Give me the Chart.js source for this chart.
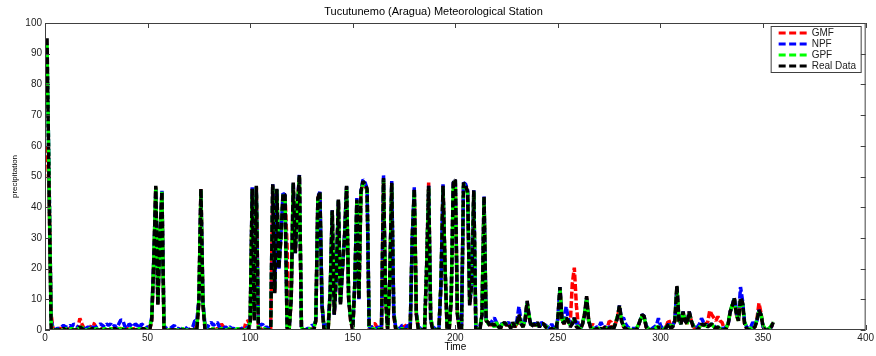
<!DOCTYPE html>
<html>
<head>
<meta charset="utf-8">
<title>Tucutunemo (Aragua) Meteorological Station</title>
<script src="https://cdn.jsdelivr.net/npm/chart.js@4.4.1/dist/chart.umd.min.js"></script>
<style>
  html, body { margin: 0; padding: 0; background: #fff; }
  #wrap { width: 876px; height: 356px; }
</style>
</head>
<body>
<div id="wrap"><canvas id="rainChart" width="876" height="356"></canvas></div>
<script>
const TITLE = "Tucutunemo (Aragua) Meteorological Station";
const SERIES_NAMES = ["GMF", "NPF", "GPF", "Real Data"];
const COLORS = ["#ff0000", "#0000ff", "#00ff00", "#000000"];
const X_TICKS = [0, 50, 100, 150, 200, 250, 300, 350, 400];
const Y_TICKS = [0, 10, 20, 30, 40, 50, 60, 70, 80, 90, 100];
const FIRST_DAY = 1;

// daily values, day 1 .. 355
const gmf = [
    60,45,5,0,0,0,0.5,0.5,0,0,
    0,0.5,0,0.5,0,0.5,3.8,2,0.5,0,
    0,0.5,2.2,2,0.5,0,0,0.5,0,0,
    0,0,0.5,0,0,0.5,0.5,0,0,0.5,
    0,0,0.5,0,0,0,0.5,0,0,0,
    0,3,22,46.5,8.5,30,45,0.5,0,0,
    0,0,0.5,0,0,0,0,0.5,0,0,
    0,0,0.5,1,9.5,46,8.5,0.5,0,0,
    0,0.5,0,0.5,0,2,1,0,0.5,0,
    0,0,0,0,0.5,0,0,2.7,3,2.5,
    46,3.5,46.5,1,0.5,0,0,0.5,0,0,
    47,12.5,45.5,21,30,44,44,27,0,10,
    47.5,25,40,50,0.5,0,0,0,0,0.5,
    0,3,43,44.5,8.5,0.5,0,0,12,38.5,
    5,18,42,9,20,30.5,46.5,10.5,3,0,
    15,42,10.5,45,48,47,45.5,0.5,0,2,
    2,0.5,0,0,49,10.5,0,15,47.5,5,
    0,0.5,0,0.5,2,1,0,0,30,45.5,
    5,0.5,0,0,0,20,48,3.5,0.5,0,
    0,0,15,47,20,0.5,0,10,47.5,48.5,
    5,0.5,0,47.5,47,45,8,15,45,0.5,
    0,0.5,5,43,3,2.5,1.5,2,1.5,2,
    1.5,0.5,2,2,1.5,2.5,1,2,1,2,
    4.5,2,1.5,3,9,4,1.5,2,1.5,2,
    1,2,2,1.5,0.5,0,0.5,0.5,0,3.5,
    13.5,3,2,3.5,3,2,15,20.3,8,1,
    0.5,2,5,10.5,3,1,2,0.5,0.5,0,
    0.5,0.5,1,0.5,2.9,2.5,0,2,4,7.5,
    3,1,0.5,0,0,0,0,0.5,1,3,
    4.5,4.5,1,0,0,0,0.5,0.5,1,0.5,
    0,0.5,1.5,3.4,1,1.5,3,14,3,2,
    5.5,3,2,6,3,1,0.5,0,1,2,
    1.5,2,2.5,6.3,5,4,3,4.4,3,2.5,
    0.5,0.5,2,6,8,10,5,3,10,8.5,
    2,0.5,0,0,0.5,1,3.5,8.7,5.5,1,
    0,0,0.5,1,2.5
];

const npf = [
    90,50,3,0.5,0,0.5,0.5,1,1.5,1,
    1,1.5,1,2,1.5,1,0.5,1,0.5,0.5,
    1,0.5,1,0.5,1,1.5,2,1.5,1,2,
    1.5,2,1,1.5,0.5,2,3.3,3,1,0.5,
    2,1.5,1,2,1.5,0.5,2,1.5,0.5,1,
    1,4,23,46,9,30,45.5,1.5,0.5,0.5,
    0.5,1,1.5,0.5,0.5,0,0.5,1,0.5,0,
    0.5,1,3,3,10,45.5,9,1.5,0.5,2,
    2.5,1.5,2,2.5,1,1.5,0.5,1,0.5,1,
    0.5,0.5,0,0.5,0,0.5,1,0.5,1,3,
    46.5,4,46.5,2,1.5,2,0.5,1,0.5,0.5,
    47.5,13,46,20,31,44.5,44,1,0.5,10.5,
    48,25,40.5,50.5,1,0.5,0,0.5,0.5,1.5,
    1.5,3,43.5,45,8,1,2,1,13,39,
    5,18,42.5,9,20,31,47,10,4,1,
    15,43,10,45.5,49,48,46,1,1,1,
    1,0.5,1,0.5,50.5,11,1,16,48.5,5.5,
    0.5,0.5,0.5,1.5,1.5,1,1.5,0.5,30,46.5,
    5.5,1,0.5,0,0.5,21,47,3.5,1,0.5,
    0,0.5,15,47.5,20,1,1,10,48,49,
    5.5,1,0.5,48,47.5,45.5,8.5,15,45.5,1,
    0.5,1,5,43.5,3.5,3,2,3,4,2.5,
    1.5,1,2.5,2,2,2.5,1,2,1.5,3,
    7.6,3,1.5,3,9,4.5,1,2,2,2,
    1,2.5,2,1.5,1,0.5,2,0.5,0,4,
    14,3.5,3,7.6,4,1.5,2,4,2,2.7,
    0.5,2,5,10.5,3,1,0.5,0.5,1,1,
    2.5,1,1,0.5,1,1,0.5,2,4,8,
    3.5,4,2,1,0.5,0.5,0.5,0.5,1,3,
    5,4.5,1.5,0.5,0,0.5,1,1.5,3.8,1.5,
    0.5,0.5,1,2,1,1.5,3,14,3,2,
    6,3,2.5,6,3,1.5,0.5,1,2,3.8,
    2.5,2,1.5,1.5,2,1.5,0.5,1,0.5,0.5,
    0.5,1,2,6,8,10.5,5.5,4,14,9.5,
    2.5,1,0.5,1,2.5,1.5,3,6.5,5,1,
    0.5,0,0.5,1,2
];

const gpf = [
    93,48,2,0,0,0,0.5,0,0,0.5,
    0,0,0.5,0,0,0.5,0.5,1,0,0,
    0,0.5,0,0,0.5,0,0,0,0.5,0,
    0,0.5,0,0,0,0.5,0,0.5,0,0,
    0,0.5,0,0,0,0.5,0,0,0.5,0,
    0.5,4,23,46.5,9,29,45,1,0,0,
    0,0.5,0,0,0,0,0.5,0,0,0,
    0,0,0,0.5,10,45.5,9,1,0,0,
    0,0.5,0,0,0,0.5,0,0,0,0.5,
    0,0,0,0.5,0,0,0,0,0.5,2.5,
    45.5,4,46.5,1,0,0,0.5,0,0,0.5,
    47,13,45.5,21,30,44,43.5,1,0,11,
    47.5,26,40,50,1,0,0,0,0.5,0,
    0,3.5,42.5,44.5,9,1,0,0,12.5,38.5,
    6,18.5,42,9,20.5,30,46.5,11,3.5,0.5,
    15.5,42,11,44.5,48,47,45.5,1,0,0.5,
    0,0,0.5,0,49,11,0.5,15.5,47.5,6,
    0.5,0,0,0.5,0,0,0.5,0,30.5,45.5,
    6,0.5,0,0,0.5,20.5,46.5,4,0.5,0,
    0,0.5,15.5,46.5,21,1,0,10.5,47.5,48.5,
    6,0.5,0,47.5,46.5,44.5,9,15.5,45,1,
    0,0.5,5.5,43,3.5,2,1.5,2,1,2.5,
    1,1,2,2,2,1.5,1,2,1.5,2,
    4.5,2.5,1,3.5,9,4.5,1.5,2,1,2,
    1.5,1.5,2,1,1,0.5,0,0.5,0,3.5,
    13.5,3.5,2,4,3,1.5,2,3.5,1.5,1,
    0.5,2,5.5,10.5,3,1,0.5,0,1,0.5,
    0,0.5,1,0.5,0,1,0.5,2,4.5,7.5,
    3,1.5,1,0.5,0,0,0.5,0,1.5,3,
    4.5,4,1.5,0.5,0,0,0,1,1,0.5,
    0,0.5,1,2,1,1.5,3,14,3.5,2,
    5.5,3.5,2,5.5,3,1.5,0.5,0,1,2,
    1.5,1.5,1,1.5,2,1,1,1,0.5,0,
    0.5,0.5,2.5,6,8.5,10,5,3,10,8.5,
    2.5,1,0,0.5,1,1,3.5,6,5,1.5,
    0.5,0,0.5,1.5,2.7
];

const realData = [
    95,45,0,0,0,0,0,0,0.5,0,
    0,0.5,0,0,0,0,1,0.5,0,0,
    0,0,0.5,0,0,0,0,0.5,0,0,
    0,0,0,0.5,0,0,0.5,0,0,0,
    0,0,0,0,0,0,0,0.5,0,0,
    0,3,22,47,8,30,45,0,0,0,
    0,0,0,0,0,0,0,0,0,0,
    0,0,0,0,9,46,8,0,0,0,
    0,0,0,0,0,0,0,0,0,0,
    0,0,0,0,0,0,0,0,0,2,
    46,3,47,0,0,0,0,0,0,0,
    47.5,12,46,20,30,44.5,44,0,0,10,
    48,25,40,50.5,0,0,0,0,0,0,
    0,3,43,45,8,0,0,0,12,39,
    5,18,42.5,8,20,30,47,10,3,0,
    15,42.5,10,45,48.5,47.5,46,0,0,0,
    0,0,0,0,49.5,10,0,15,48,5,
    0,0,0,0,0,0,0,0,30,46,
    5,0,0,0,0,20,47,3,0,0,
    0,0,15,47,20,0,0,10,48,49,
    5,0,0,48,47,45,8,15,45.5,0,
    0,0,5,43.5,3,2.5,1,2,1.5,2,
    1,0.5,2,2.5,1.5,2,0.5,2.5,1,2,
    5,2,1,3,9.5,4,1,2,1.5,2.5,
    1,2,2,1,0.5,0,0.5,0,0,4,
    14,3,2,4,3,1,2,4,1,0.5,
    0,2,5,11,3,0.5,0,0,0.5,0,
    0.5,0,1,0,0.5,1,0,2,4,8,
    3,1,0.5,0,0,0,0,0,1,3,
    5,4.5,1,0,0,0,0,0.5,1,0,
    0,0,1,2,0.5,1,3,14.5,3,2,
    6,3,2,6,3,1,0,0,1,2,
    1.5,2,1,1.5,2,1,0.5,1,0,0,
    0,0.5,2,6,8,10.5,5,3,10.5,9,
    2,0.5,0,0,0.5,1,3,6.5,5,1,
    0,0,0,1,2.5
];

const SERIES = [gmf, npf, gpf, realData];
const FONT = "'Liberation Sans', Arial, Helvetica, sans-serif";

const toPoints = values => values.map((v, i) => ({ x: FIRST_DAY + i, y: v }));

// MATLAB style box with inward ticks on all four sides
const frameBox = {
    id: "frameBox",
    afterDatasetsDraw(chart) {
        const { ctx, chartArea: a, scales: { x, y } } = chart;
        ctx.save();
        ctx.strokeStyle = "#404040";
        ctx.lineWidth = 1;
        ctx.setLineDash([]);
        ctx.strokeRect(a.left + 0.5, a.top + 0.5, a.right - a.left - 1, a.bottom - a.top - 1);
        ctx.beginPath();
        x.ticks.forEach(t => {
            const px = Math.round(x.getPixelForValue(t.value)) + 0.5;
            ctx.moveTo(px, a.bottom); ctx.lineTo(px, a.bottom - 5);
            ctx.moveTo(px, a.top); ctx.lineTo(px, a.top + 5);
        });
        y.ticks.forEach(t => {
            const py = Math.round(y.getPixelForValue(t.value)) + 0.5;
            ctx.moveTo(a.left, py); ctx.lineTo(a.left + 5, py);
            ctx.moveTo(a.right, py); ctx.lineTo(a.right - 5, py);
        });
        ctx.stroke();
        ctx.restore();
    }
};

// legend box in the upper right corner of the plot
const boxLegend = {
    id: "boxLegend",
    afterDraw(chart) {
        const { ctx, chartArea: a } = chart;
        const sets = chart.data.datasets;
        const w = 90, rowH = 11, h = sets.length * rowH + 2;
        const left = a.right - w - 5, top = a.top + 3;
        ctx.save();
        ctx.fillStyle = "#fff";
        ctx.fillRect(left, top, w, h);
        ctx.strokeStyle = "#404040";
        ctx.lineWidth = 1;
        ctx.strokeRect(left + 0.5, top + 0.5, w, h);
        ctx.font = "10px " + FONT;
        ctx.textBaseline = "middle";
        sets.forEach((ds, i) => {
            const cy = top + 7 + i * rowH;
            ctx.strokeStyle = ds.borderColor;
            ctx.lineWidth = 3;
            ctx.setLineDash([7, 3.5]);
            ctx.beginPath();
            ctx.moveTo(left + 8, cy);
            ctx.lineTo(left + 37, cy);
            ctx.stroke();
            ctx.fillStyle = "#222";
            ctx.fillText(ds.label, left + 41, cy);
        });
        ctx.restore();
    }
};

const chart = new Chart(document.getElementById("rainChart").getContext("2d"), {
    type: "line",
    data: {
        datasets: SERIES.map((values, i) => ({
            label: SERIES_NAMES[i],
            data: toPoints(values),
            borderColor: COLORS[i],
            borderWidth: 3.5,
            borderDash: [7, 2.5],
            borderJoinStyle: "bevel",
            borderCapStyle: "butt",
            pointRadius: 0,
            tension: 0,
            fill: false,
            order: SERIES.length - i
        }))
    },
    options: {
        responsive: false,
        animation: false,
        layout: { padding: { left: 0, right: 9, top: 0, bottom: 0 } },
        plugins: {
            legend: { display: false },
            tooltip: { enabled: false },
            title: {
                display: true,
                text: TITLE,
                color: "#000",
                font: { family: FONT, size: 11, weight: "normal" },
                padding: { top: 5, bottom: 4.8 }
            }
        },
        scales: {
            x: {
                type: "linear",
                min: 0,
                max: 400,
                afterBuildTicks: scale => { scale.ticks = X_TICKS.map(v => ({ value: v })); },
                afterFit: scale => { scale.height = 26; },
                grid: { display: false, drawTicks: false },
                border: { display: false },
                ticks: { color: "#222", padding: 2, maxRotation: 0, font: { family: FONT, size: 10 } },
                title: {
                    display: true,
                    text: "Time",
                    color: "#000",
                    font: { family: FONT, size: 10 },
                    padding: { top: 0, bottom: 3 }
                }
            },
            y: {
                min: 0,
                max: 100,
                afterBuildTicks: scale => { scale.ticks = Y_TICKS.map(v => ({ value: v })); },
                afterFit: scale => { scale.width = 45; },
                grid: { display: false, drawTicks: false },
                border: { display: false },
                ticks: { color: "#222", padding: 3, font: { family: FONT, size: 10 } },
                title: {
                    display: true,
                    text: "precipitation",
                    color: "#000",
                    font: { family: FONT, size: 8 },
                    padding: { top: 10, bottom: 0 }
                }
            }
        }
    },
    plugins: [frameBox, boxLegend]
});
</script>
</body>
</html>
